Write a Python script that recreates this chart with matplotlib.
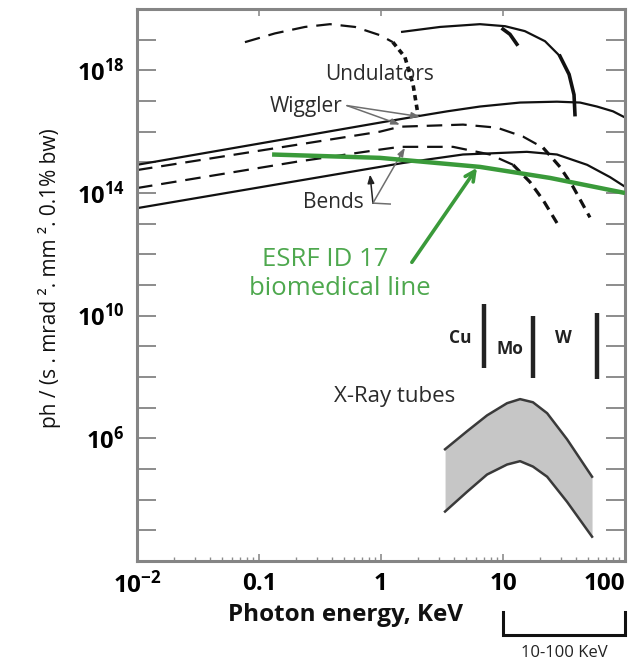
import matplotlib
matplotlib.use('Agg')
import matplotlib.pyplot as plt
from matplotlib.ticker import LogLocator, NullFormatter, NullLocator
from matplotlib.transforms import blended_transform_factory

plt.rcParams['font.family'] = ['Open Sans', 'DejaVu Sans']
plt.rcParams['mathtext.fontset'] = 'custom'
plt.rcParams['mathtext.rm'] = 'Open Sans'
plt.rcParams['mathtext.bf'] = 'Open Sans:bold'
plt.rcParams['mathtext.it'] = 'Open Sans:italic'

# ---------------- data (energy in keV, brilliance in ph/(s mrad2 mm2 0.1%bw)) ----------------
wig_solid_E = [0.01, 1.0, 1.73, 3.48, 6.47, 13.8, 27.7, 42.8, 58.9, 79.8, 100]
wig_solid_F = [8.3e14, 2.0e16, 2.9e16, 4.6e16, 6.6e16, 8.9e16, 9.5e16, 8.9e16, 6.6e16, 4.6e16, 2.9e16]

wig_dash_E = [0.01, 0.98, 1.43, 4.70, 8.93, 14.6, 21.3, 29.3, 37.5, 51.6]
wig_dash_F = [5.6e14, 1.0e16, 1.45e16, 1.7e16, 1.35e16, 6.9e15, 3.0e15, 7.1e14, 1.6e14, 1.6e13]

bend_dash_E = [0.01, 0.205, 0.98, 1.43, 3.89, 7.82, 12.1, 16.6, 21.3, 27.7]
bend_dash_F = [1.45e14, 1.05e15, 2.6e15, 3.2e15, 3.2e15, 1.8e15, 8.3e14, 2.3e14, 5.9e13, 1.05e13]

bend_solid_E = [0.01, 0.98, 1.51, 4.70, 15.7, 27.7, 48.9, 75.3, 100]
bend_solid_F = [3.2e13, 7.1e14, 9.5e14, 1.8e15, 2.2e15, 1.8e15, 8.3e14, 3.3e14, 1.6e14]

und_dash_E = [0.0767, 0.135, 0.238, 0.382, 0.612, 0.98, 1.25, 1.57, 1.83, 2.01]
und_dash_F = [8.3e18, 1.6e19, 2.6e19, 3.2e19, 2.6e19, 1.4e19, 8.3e18, 2.7e18, 3.5e17, 3.6e16]

und_solid_E = [1.49, 3.05, 6.47, 10.4, 15.1, 22.1, 29.3, 34.8, 38.2, 38.9]
und_solid_F = [1.8e19, 2.6e19, 3.2e19, 2.75e19, 1.9e19, 8.9e18, 2.9e18, 7.4e17, 1.6e17, 3.6e16]

und_harm_E = [10.0, 11.4, 13.0]
und_harm_F = [2.2e19, 1.5e19, 7.1e18]

esrf_E = [0.128, 0.98, 6.47, 24.3, 100]
esrf_F = [1.8e15, 1.4e15, 7.1e14, 3.1e14, 1.0e14]

tube_E = [3.35, 5.07, 7.40, 10.8, 13.8, 17.6, 23.0, 33.5, 53.7]
tube_upper = [4.4e5, 1.7e6, 5.6e6, 1.4e7, 1.9e7, 1.5e7, 6.6e6, 9.3e5, 5.6e4]
tube_lower = [4.1e3, 1.8e4, 6.6e4, 1.4e5, 1.8e5, 1.2e5, 5.6e4, 8.5e3, 6.2e2]

anode_names = ['Cu', 'Mo', 'W']
anode_E = [7.0, 17.5, 59.0]
anode_top = [2.45e10, 1.0e10, 1.2e10]
anode_bottom = [2.0e8, 9.3e7, 8.5e7]

xtick_vals = [0.01, 0.1, 1, 10, 100]
xtick_labels = [r'$\mathbf{10^{-2}}$', '0.1', '1', '10', '100']
ytick_exps = list(range(2, 21))
ytick_labelled = {6: r'$\mathbf{10^{6}}$', 10: r'$\mathbf{10^{10}}$',
                  14: r'$\mathbf{10^{14}}$', 18: r'$\mathbf{10^{18}}$'}

# ---------------- figure ----------------
fig = plt.figure(figsize=(6.44, 6.60), dpi=100)
ax = fig.add_axes([137/644, 1-561/660, (625-137)/644, (561-9)/660])
ax.set_xscale('log')
ax.set_yscale('log')
ax.set_xlim(0.01, 100)
ax.set_ylim(1e2, 1e20)

K = '#111111'
LW = 1.6
long_dash = (0, (7, 4))
short_dash = (0, (3, 2))

# Wiggler
ax.plot(wig_solid_E, wig_solid_F, color=K, lw=LW)
ax.plot(wig_dash_E[:7], wig_dash_F[:7], color=K, lw=LW, linestyle=long_dash)
ax.plot(wig_dash_E[6:], wig_dash_F[6:], color=K, lw=2.3, linestyle=short_dash)
# Bends
ax.plot(bend_solid_E, bend_solid_F, color=K, lw=LW)
ax.plot(bend_dash_E[:7], bend_dash_F[:7], color=K, lw=LW, linestyle=long_dash)
ax.plot(bend_dash_E[6:], bend_dash_F[6:], color=K, lw=2.3, linestyle=short_dash)
# Undulators
ax.plot(und_dash_E[:7], und_dash_F[:7], color=K, lw=LW, linestyle=long_dash)
ax.plot(und_dash_E[6:], und_dash_F[6:], color=K, lw=2.6, linestyle=(0, (1.5, 1.2)))
ax.plot(und_solid_E[:7], und_solid_F[:7], color=K, lw=LW)
ax.plot(und_solid_E[6:], und_solid_F[6:], color=K, lw=2.6)
ax.plot(und_harm_E, und_harm_F, color=K, lw=2.6)

# ESRF ID17
green = '#3a9a3a'
ax.plot(esrf_E, esrf_F, color=green, lw=3.2, solid_capstyle='butt', zorder=4)

# X-ray tubes band
ax.fill_between(tube_E, tube_lower, tube_upper, color='#c6c6c6', lw=0)
ax.plot(tube_E, tube_upper, color='#3a3a3a', lw=1.8)
ax.plot(tube_E, tube_lower, color='#3a3a3a', lw=1.8)

# anode lines
for name, e, top, bot in zip(anode_names, anode_E, anode_top, anode_bottom):
    ax.plot([e, e], [bot, top], color='#222222', lw=3.2, solid_capstyle='butt')
ax.text(4.45, 10**9.28, 'Cu', fontsize=12.5, fontweight='bold', ha='center', va='center', color='#222222')
ax.text(11.4, 10**8.92, 'Mo', fontsize=12.5, fontweight='bold', ha='center', va='center', color='#222222')
ax.text(31.0, 10**9.28, 'W', fontsize=12.5, fontweight='bold', ha='center', va='center', color='#222222')

# Text annotations
tc = '#2b2b2b'
ax.text(0.98, 10**17.87, 'Undulators', fontsize=15, ha='center', va='center', color=tc)
ax.text(0.243, 10**16.82, 'Wiggler', fontsize=15, ha='center', va='center', color=tc)
ax.text(0.405, 10**13.70, 'Bends', fontsize=15, ha='center', va='center', color=tc)
ax.text(1.30, 10**7.38, 'X-Ray tubes', fontsize=16, ha='center', va='center', color=tc)
ax.text(0.347, 10**11.84, 'ESRF ID 17', fontsize=18.5, ha='center', va='center', color='#4ea84e')
ax.text(0.461, 10**10.89, 'biomedical line', fontsize=18.5, ha='center', va='center', color='#4ea84e')

gray = '#6e6e6e'
arr = dict(arrowstyle='-|>,head_length=0.5,head_width=0.18', color=gray, lw=1.1, shrinkA=0, shrinkB=0)
ax.annotate('', xy=(1.43, 10**16.23), xytext=(0.526, 10**16.85), arrowprops=arr)
ax.annotate('', xy=(2.09, 10**16.49), xytext=(0.526, 10**16.85), arrowprops=arr)
arrb = dict(arrowstyle='-|>,head_length=0.5,head_width=0.2', color='#222222', lw=1.1, shrinkA=0, shrinkB=0)
ax.annotate('', xy=(0.813, 10**14.6), xytext=(0.859, 10**13.67), arrowprops=arrb)
ax.annotate('', xy=(1.57, 10**15.48), xytext=(0.859, 10**13.67), arrowprops=arr)
ax.plot([0.859, 1.19], [10**13.67, 10**13.64], color=gray, lw=1.1)

ax.annotate('', xy=(6.12, 10**14.82), xytext=(1.79, 10**11.74),
            arrowprops=dict(arrowstyle='->,head_length=0.7,head_width=0.35', color=green, lw=2.6,
                            shrinkA=0, shrinkB=0))

# axes styling
for s in ax.spines.values():
    s.set_color('#858585')
    s.set_linewidth(2.2)

ax.set_yticks([10.0**k for k in ytick_exps],
              labels=[ytick_labelled.get(k, '') for k in ytick_exps])
ax.yaxis.set_minor_locator(NullLocator())
ax.tick_params(axis='y', which='major', direction='in', length=14, width=1.4, color='#8c8c8c',
               left=True, right=True, pad=9, labelsize=17)

ax.set_xticks(xtick_vals, labels=xtick_labels)
ax.xaxis.set_minor_locator(LogLocator(base=10, subs=range(2, 10)))
ax.xaxis.set_minor_formatter(NullFormatter())
ax.tick_params(axis='x', which='major', direction='in', length=5, width=1.2, color='#8c8c8c',
               top=True, bottom=True, pad=8, labelsize=17.5)
ax.tick_params(axis='x', which='minor', direction='in', length=3, width=1.0, color='#8c8c8c',
               top=False, bottom=True)
for lbl in ax.get_xticklabels():
    lbl.set_fontweight('bold')
ax.get_xticklabels()[-1].set_ha('right')

fig.text(345/644, 1-615/660, 'Photon energy, KeV', fontsize=17.5, fontweight='bold',
         ha='center', va='center', color='#111111')
fig.text(50/644, 1-278/660, 'ph / (s . mrad \u00b2. mm \u00b2. 0.1% bw)', fontsize=15,
         rotation=90, ha='center', va='center', color='#111111')

# 10-100 keV bracket
bt = blended_transform_factory(ax.transData, ax.transAxes)
ax.plot([10, 10, 100, 100], [-0.092, -0.134, -0.134, -0.092], transform=bt, color='#111111',
        lw=2.2, clip_on=False, solid_joinstyle='miter')
ax.text(31.6, -0.167, '10-100 KeV', transform=bt, fontsize=12, ha='center', va='center',
        color='#222222', clip_on=False)

fig.savefig('out.png', dpi=100)
